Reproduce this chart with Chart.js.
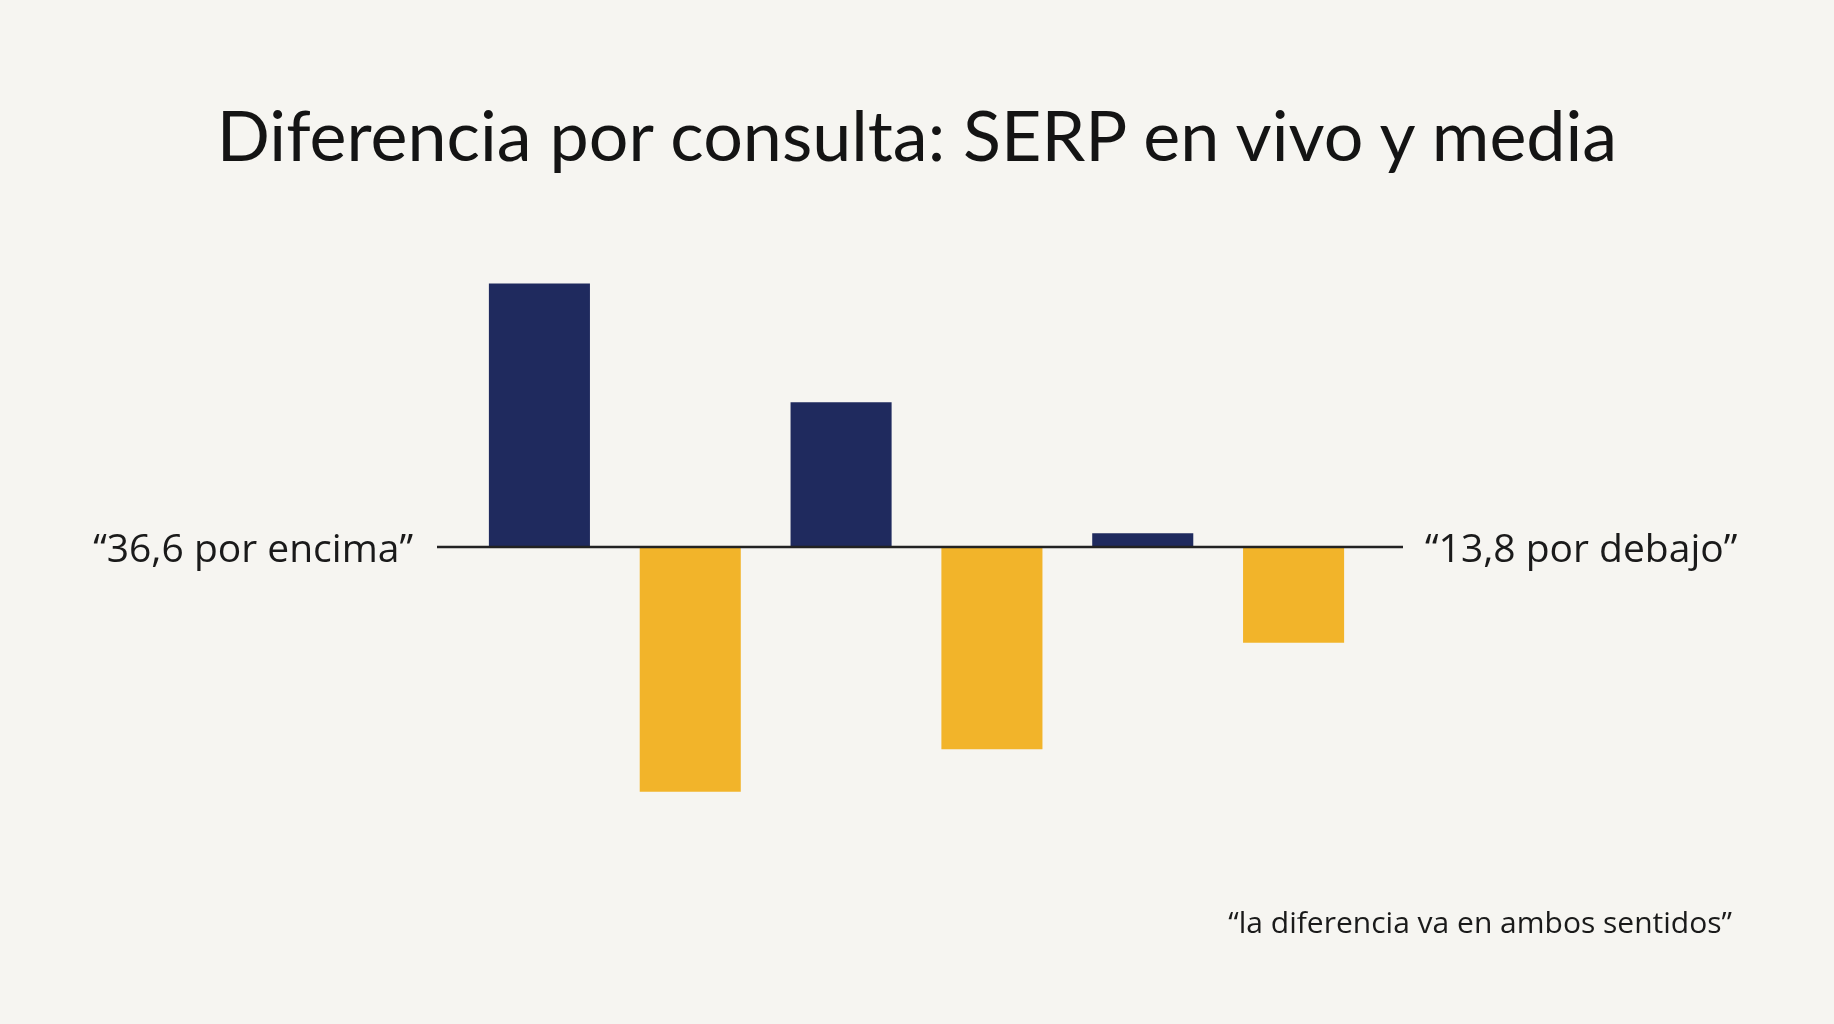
<!DOCTYPE html>
<html lang="es">
<head>
<meta charset="utf-8">
<title>Diferencia por consulta</title>
<script src="https://cdn.jsdelivr.net/npm/chart.js@4.4.1/dist/chart.umd.min.js"></script>
<style>
  html, body { margin:0; padding:0; background:#f6f5f1; }
  body { width:1834px; height:1024px; position:relative; overflow:hidden; }
  #chartWrap { position:absolute; left:0; top:0; width:1834px; height:1024px; }
  h1 { position:absolute; left:0; width:1834px; top:99px; margin:0; text-align:center;
       font-family:Lato, sans-serif; font-weight:400; font-size:70px; color:#141414; line-height:1; }
  #note { position:absolute; right:102px; top:907px; margin:0;
       font-family:"Open Sans", sans-serif; font-size:30px; color:#1a1a1a; line-height:1; }
</style>
</head>
<body>
<h1 id="title">Diferencia por consulta: SERP en vivo y media</h1>
<div id="chartWrap"><canvas id="chart"></canvas></div>
<div id="note">“la diferencia va en ambos sentidos”</div>
<script>
// query pairs: live SERP vs average, difference per query
const labels = ['C1 encima', 'C1 debajo', 'C2 encima', 'C2 debajo', 'C3 encima', 'C3 debajo'];
const diffs = [36.6, -34.0, 20.1, -28.1, 1.9, -13.3];
const leftNote = '“36,6 por encima”';
const rightNote = '“13,8 por debajo”';

const NAVY = '#1f2a5e', GOLD = '#f2b42a';

// zero line a bit wider than the bars, plus the two side notes
const sideNotes = {
  id:'sideNotes',
  afterDatasetsDraw(chart){
    const {ctx, chartArea:a, scales:{y}} = chart;
    const y0 = y.getPixelForValue(0);
    ctx.save();
    ctx.strokeStyle = '#222';
    ctx.lineWidth = 2.5;
    ctx.beginPath();
    ctx.moveTo(a.left - 27, y0);
    ctx.lineTo(a.right + 34, y0);
    ctx.stroke();
    ctx.fillStyle = '#1a1a1a';
    ctx.font = '39px "Open Sans", sans-serif';
    ctx.textBaseline = 'alphabetic';
    ctx.textAlign = 'right';
    ctx.fillText(leftNote, a.left - 51, y0 + 15);
    ctx.textAlign = 'left';
    ctx.fillText(rightNote, a.right + 56, y0 + 15);
    ctx.restore();
  }
};

new Chart(document.getElementById('chart').getContext('2d'), {
  type:'bar',
  data:{ labels, datasets:[{
    label:'Diferencia',
    data:diffs,
    backgroundColor: diffs.map(v => v >= 0 ? NAVY : GOLD),
    borderWidth:0,
    categoryPercentage:1,
    barPercentage:0.67
  }]},
  options:{
    responsive:true, maintainAspectRatio:false, animation:false,
    layout:{ padding:{ left:464, right:465, top:259, bottom:189 } },
    plugins:{ legend:{display:false}, tooltip:{enabled:false}, title:{display:false} },
    scales:{
      x:{ display:false },
      y:{ display:false, min:-40, max:40 }
    }
  },
  plugins:[sideNotes]
});
</script>
</body>
</html>
